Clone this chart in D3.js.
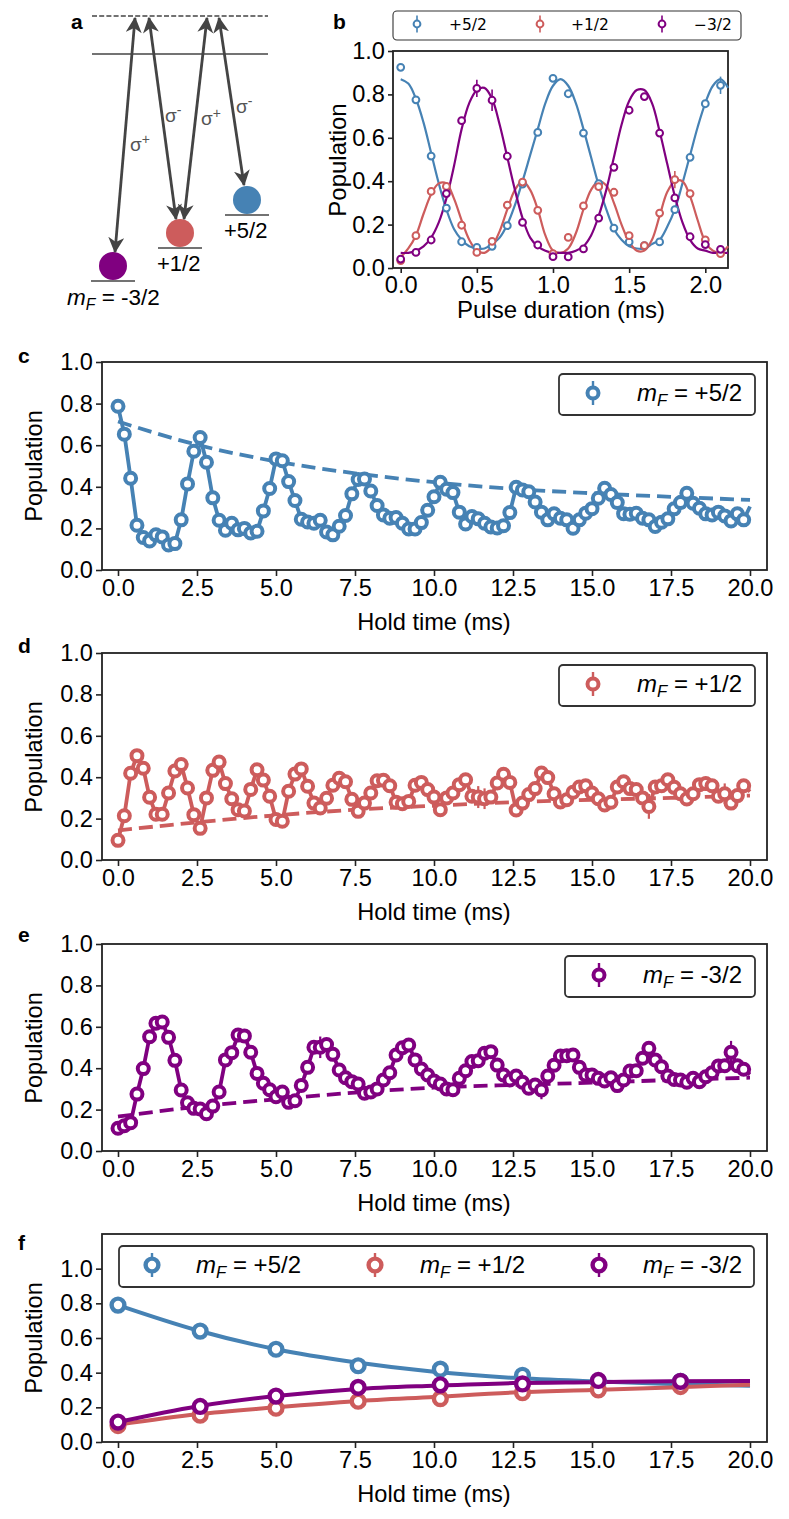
<!DOCTYPE html>
<html><head><meta charset="utf-8">
<script src="https://cdn.jsdelivr.net/npm/d3@7"></script>
<style>html,body{margin:0;padding:0;background:#fff}svg{display:block}text{font-family:"Liberation Sans",Arial,sans-serif;fill:#000}</style>
</head><body><svg id="c" width="789" height="1519"></svg>
<script>
const BLUE="#4682b4",RED="#cd5c5c",PURPLE="#800080";
const pulseTimes=[0,.1,.2,.3,.4,.5,.6,.7,.8,.9,1,1.1,1.2,1.3,1.4,1.5,1.6,1.7,1.8,1.9,2,2.1];
const pulseBlue=[.925,.775,.516,.276,.121,.095,.10,.195,.387,.625,.874,.803,.622,.389,.184,.12,.103,.12,.269,.51,.757,.842];
const pulseRed=[.034,.149,.353,.376,.197,.072,.123,.29,.396,.266,.066,.141,.286,.375,.349,.149,.103,.253,.407,.343,.13,.066];
const pulsePurple=[.041,.072,.129,.343,.679,.828,.773,.515,.21,.106,.052,.051,.088,.23,.464,.727,.79,.622,.323,.144,.108,.086];
const pulseFitT=[0,.05,.1,.15,.2,.25,.3,.35,.4,.45,.5,.55,.6,.65,.7,.75,.8,.85,.9,.95,1,1.05,1.1,1.15,1.2,1.25,1.3,1.35,1.4,1.45,1.5,1.55,1.6,1.65,1.7,1.75,1.8,1.85,1.9,1.95,2,2.05,2.1,2.15];
const pulseFitBlue=[.87,.85,.78,.67,.53,.39,.27,.18,.13,.10,.09,.09,.11,.14,.20,.29,.40,.52,.64,.76,.84,.87,.84,.76,.64,.51,.38,.27,.18,.13,.10,.09,.09,.11,.13,.19,.27,.39,.52,.65,.76,.84,.87,.83];
const pulseFitRed=[.05,.09,.15,.25,.34,.39,.39,.32,.22,.13,.08,.07,.10,.17,.27,.36,.40,.36,.27,.15,.08,.07,.09,.16,.27,.36,.40,.38,.30,.20,.12,.08,.08,.13,.24,.35,.40,.40,.33,.22,.12,.08,.07,.10];
const pulseFitPurple=[.07,.07,.08,.10,.14,.21,.32,.47,.64,.76,.82,.83,.78,.66,.51,.36,.23,.14,.10,.08,.07,.07,.07,.08,.10,.15,.24,.36,.51,.66,.77,.82,.82,.76,.63,.48,.33,.21,.13,.09,.08,.07,.07,.07];

const holdTimes=d3.range(100).map(i=>+(i*.2).toFixed(1));
const holdBlue=[.787,.653,.441,.215,.156,.14,.169,.159,.12,.127,.241,.414,.571,.637,.518,.347,.239,.191,.225,.193,.2,.178,.186,.284,.392,.534,.525,.425,.334,.244,.231,.225,.239,.183,.169,.21,.262,.366,.435,.438,.38,.31,.265,.249,.252,.225,.197,.197,.228,.287,.352,.422,.388,.372,.278,.221,.257,.246,.225,.207,.202,.213,.276,.398,.385,.376,.327,.278,.241,.27,.249,.241,.201,.241,.273,.295,.345,.393,.363,.324,.271,.268,.273,.249,.241,.209,.23,.246,.294,.324,.369,.321,.297,.27,.265,.278,.26,.236,.27,.241];
const holdRed=[.095,.214,.419,.504,.443,.303,.221,.221,.324,.43,.461,.348,.219,.153,.3,.433,.473,.369,.296,.243,.237,.341,.436,.386,.308,.196,.187,.332,.415,.44,.356,.275,.251,.298,.361,.395,.378,.293,.235,.275,.324,.383,.385,.359,.279,.272,.283,.361,.375,.34,.304,.243,.3,.324,.364,.388,.308,.304,.296,.304,.372,.414,.375,.242,.275,.316,.345,.42,.398,.32,.28,.291,.327,.353,.359,.324,.296,.266,.279,.353,.378,.345,.34,.3,.259,.353,.359,.388,.351,.32,.295,.32,.364,.369,.359,.308,.32,.275,.311,.359];
const holdPurple=[.11,.122,.137,.275,.398,.552,.617,.623,.549,.438,.295,.233,.206,.203,.18,.217,.285,.44,.475,.56,.556,.477,.375,.327,.296,.262,.285,.235,.243,.317,.404,.501,.501,.514,.467,.391,.354,.335,.324,.279,.285,.3,.343,.378,.464,.499,.512,.44,.396,.367,.338,.324,.3,.296,.351,.388,.432,.436,.472,.48,.415,.367,.343,.362,.332,.303,.319,.295,.362,.414,.459,.46,.464,.404,.367,.367,.351,.338,.354,.316,.343,.386,.388,.448,.496,.44,.407,.362,.346,.343,.332,.351,.335,.359,.378,.411,.412,.477,.412,.395];
const lineEnd={blue:.305,red:.33,purple:.37};
const bigErrBlue=[[78,.03]];
const bigErrRed=[[57,.053],[58,.05],[84,.06],[96,.05]];
const bigErrPurple=[[32,.052],[67,.045],[84,.03],[97,.055]];
const envT=[0,2.5,5,7.5,10,12.5,15,17.5,20];
const envBlue=[.714,.602,.522,.465,.422,.39,.369,.352,.337];
const envRed=[.143,.182,.216,.243,.262,.279,.291,.30,.311];
const envPurple=[.166,.214,.25,.282,.306,.319,.33,.343,.354];
const peakT=[0,2.6,5,7.6,10.2,12.8,15.2,17.8];
const peakBlue=[.79,.64,.535,.44,.42,.385,.35,.35];
const peakRed=[.095,.155,.195,.235,.25,.285,.30,.32];
const peakPurple=[.115,.205,.265,.315,.33,.335,.355,.35];
const fitFBlue=[.79,.645,.535,.46,.405,.37,.35,.335,.325];
const fitFRed=[.10,.16,.20,.235,.26,.285,.30,.315,.33];
const fitFPurple=[.115,.205,.265,.305,.325,.34,.345,.35,.352];
const holdTicks=[0,2.5,5,7.5,10,12.5,15,17.5,20];
const popTicks=[0,.2,.4,.6,.8,1];
const pulseTicks=[0,.5,1,1.5,2];

const svg=d3.select("#c");
const F2=23.6;

function frame(box,xDom,xRange,yMax,xt,xlab,opts){
  const x=d3.scaleLinear().domain(xDom).range(xRange);
  const y=d3.scaleLinear().domain([0,yMax]).range([box.b,box.t]);
  const g=svg.append("g");
  const ax=g.append("g").attr("transform",`translate(0,${box.b})`).call(d3.axisBottom(x).tickValues(xt).tickSize(opts.tick).tickPadding(opts.xpad).tickFormat(d3.format(".1f")));
  const ay=g.append("g").attr("transform",`translate(${box.l},0)`).call(d3.axisLeft(y).tickValues(popTicks).tickSize(opts.tick).tickPadding(opts.ypad).tickFormat(d3.format(".1f")));
  ax.select(".domain").remove();ay.select(".domain").remove();
  g.selectAll(".tick line").attr("stroke","#222").attr("stroke-width",1.6);
  g.selectAll(".tick text").style("font-family","'Liberation Sans'").style("font-size",opts.font+"px").attr("fill","#000");
  g.append("rect").attr("x",box.l).attr("y",box.t).attr("width",box.r-box.l).attr("height",box.b-box.t).attr("fill","none").attr("stroke","#222").attr("stroke-width",1.8);
  g.append("text").attr("x",opts.xlx).attr("y",box.b+opts.xly).attr("text-anchor","middle").style("font-size",opts.lab+"px").text(xlab);
  g.append("text").attr("transform",`translate(${opts.ylx},${opts.yly}) rotate(-90)`).attr("text-anchor","middle").style("font-size",opts.lab+"px").text("Population");
  return {x,y,g};
}
function lineOf(p,xs,ys,color,w,dash,curve){
  const l=d3.line().x(d=>p.x(d[0])).y(d=>p.y(d[1]));
  if(curve)l.curve(curve);
  const pth=p.g.append("path").datum(xs.map((t,i)=>[t,ys[i]])).attr("d",l).attr("fill","none").attr("stroke",color).attr("stroke-width",w);
  if(dash)pth.attr("stroke-dasharray",dash);
  return pth;
}
function points(p,xs,ys,color,r,w,errs,ew){
  (errs||[]).forEach(([i,e])=>{
    p.g.append("line").attr("x1",p.x(xs[i])).attr("x2",p.x(xs[i])).attr("y1",p.y(ys[i]-e)).attr("y2",p.y(ys[i]+e)).attr("stroke",color).attr("stroke-width",ew);
  });
  p.g.selectAll(null).data(xs.map((t,i)=>[t,ys[i]])).join("circle").attr("cx",d=>p.x(d[0])).attr("cy",d=>p.y(d[1])).attr("r",r).attr("fill","#fff").attr("stroke",color).attr("stroke-width",w);
}
function legBox(x0,y0,x1,y1,w){svg.append("rect").attr("x",x0).attr("y",y0).attr("width",x1-x0).attr("height",y1-y0).attr("rx",4).attr("fill","#fff").attr("stroke","#333").attr("stroke-width",w);}
function legMark(x,y,color,r,w,h,ew){
  svg.append("line").attr("x1",x).attr("x2",x).attr("y1",y-h).attr("y2",y+h).attr("stroke",color).attr("stroke-width",ew);
  svg.append("circle").attr("cx",x).attr("cy",y).attr("r",r).attr("fill","#fff").attr("stroke",color).attr("stroke-width",w);
}
function mfLabel(x,y,rest,size){
  const t=svg.append("text").attr("x",x).attr("y",y).style("font-size",size+"px");
  t.append("tspan").style("font-style","italic").text("m");
  t.append("tspan").style("font-style","italic").style("font-size",(size*.7)+"px").attr("dy",size*.2).text("F");
  t.append("tspan").attr("dy",-size*.2).text(" = "+rest);
}
function panelLabel(s,x,y){svg.append("text").attr("x",x).attr("y",y).style("font-size","21px").style("font-weight","bold").text(s);}

/* ---------- panel a ---------- */
const cGrey="#444";
svg.append("defs").append("marker").attr("id","ah").attr("viewBox","0 0 12 12").attr("refX",11).attr("refY",6).attr("markerWidth",16).attr("markerHeight",16).attr("markerUnits","userSpaceOnUse").attr("orient","auto-start-reverse")
  .append("path").attr("d","M0,0 L12,6 L0,12 L3.5,6 Z").attr("fill",cGrey);
const topLines=[[16,"5,2.2",1.3],[54,null,1.6]];
topLines.forEach(([y,d,w])=>{const l=svg.append("line").attr("x1",92).attr("x2",268).attr("y1",y).attr("y2",y).attr("stroke",cGrey).attr("stroke-width",w);if(d)l.attr("stroke-dasharray",d);});
const levels=[[113,266,PURPLE],[180,233,RED],[247,200,BLUE]];
levels.forEach(([x,y,c])=>{
  svg.append("circle").attr("cx",x).attr("cy",y).attr("r",14).attr("fill",c);
  svg.append("line").attr("x1",x-22).attr("x2",x+22).attr("y1",y+15).attr("y2",y+15).attr("stroke",cGrey).attr("stroke-width",1.6);
});
const arrows=[[135,18,115,252],[149,18,176,219],[207,18,184,219],[219,18,244,185]];
arrows.forEach(([a,b,c,d])=>svg.append("line").attr("x1",a).attr("y1",b).attr("x2",c).attr("y2",d).attr("stroke",cGrey).attr("stroke-width",2.8).attr("marker-start","url(#ah)").attr("marker-end","url(#ah)"));
const sigmas=[[130,151,"+"],[165,122,"-"],[201,125,"+"],[236,113,"-"]];
sigmas.forEach(([x,y,s])=>{
  const t=svg.append("text").attr("x",x).attr("y",y).style("font-size","19px").style("fill","#555");
  t.append("tspan").text("σ");
  t.append("tspan").attr("dy",-7).style("font-size","14px").text(s);
});
svg.append("text").attr("x",224).attr("y",238).style("font-size","22px").text("+5/2");
svg.append("text").attr("x",157).attr("y",271).style("font-size","22px").text("+1/2");
mfLabel(67,305,"-3/2",22.5);

panelLabel("a",71,29);panelLabel("b",333,29);panelLabel("c",18,363);panelLabel("d",18,653);panelLabel("e",18,942);panelLabel("f",18,1250);

/* ---------- panel b ---------- */
{
  const p=frame({l:393,r:728,t:51,b:268},[0,2],[400.7,705.3],1,pulseTicks,"Pulse duration (ms)",{tick:5,xpad:3,ypad:3,font:23.6,lab:24,xlx:561,xly:50,ylx:346,yly:160});
  [[pulseFitBlue,BLUE],[pulseFitRed,RED],[pulseFitPurple,PURPLE]].forEach(([v,c])=>lineOf(p,pulseFitT,v,c,2.2,null,d3.curveCatmullRom));
  points(p,pulseTimes,pulseBlue,BLUE,3.4,2,[[21,.04]],1.6);
  points(p,pulseTimes,pulseRed,RED,3.4,2,[[18,.04]],1.6);
  points(p,pulseTimes,pulsePurple,PURPLE,3.4,2,[[5,.04],[6,.05]],1.6);
  legBox(393,11,741,40,1.1);
  const items=[[417,BLUE,"+5/2",449],[540,RED,"+1/2",571],[662,PURPLE,"−3/2",694]];
  items.forEach(([x,c,s,tx])=>{
    legMark(x,24,c,3.4,2,8.5,1.6);
    svg.append("text").attr("x",tx).attr("y",30).style("font-family","'DejaVu Sans'").style("font-size","15.5px").text(s);
  });
}

/* ---------- panels c, d, e ---------- */
const optsHold=(t)=>({tick:6,xpad:3,ypad:3,font:F2,lab:F2,xlx:434,xly:60,ylx:42,yly:t+104});
function holdPanel(t,b,vals,end,env,errs,color,leg){
  const p=frame({l:102,r:767,t,b},[0,20],[118,750],1,holdTicks,"Hold time (ms)",optsHold(t));
  lineOf(p,envT,env,color,3.8,"14,7",d3.curveMonotoneX);
  lineOf(p,holdTimes.concat([20]),vals.concat([end]),color,3.8);
  points(p,holdTimes,vals,color,5.5,4,errs,2.2);
  legBox(leg.x0,t+12,755,t+53,1.8);
  legMark(leg.mx,t+31,color,5.5,4,12,2.4);
  mfLabel(leg.tx,t+39,leg.s,24);
}
holdPanel(362,570,holdBlue,lineEnd.blue,envBlue,bigErrBlue,BLUE,{x0:559,mx:593,tx:637,s:"+5/2"});
holdPanel(653,860,holdRed,lineEnd.red,envRed,bigErrRed,RED,{x0:559,mx:593,tx:637,s:"+1/2"});
holdPanel(944,1151,holdPurple,lineEnd.purple,envPurple,bigErrPurple,PURPLE,{x0:565,mx:599,tx:643,s:"-3/2"});

/* ---------- panel f ---------- */
{
  const p=frame({l:102,r:767,t:1234,b:1442},[0,20],[118,750],1.2,holdTicks,"Hold time (ms)",{tick:6,xpad:3,ypad:3,font:F2,lab:F2,xlx:434,xly:60,ylx:42,yly:1338});
  [[fitFBlue,BLUE],[fitFRed,RED],[fitFPurple,PURPLE]].forEach(([v,c])=>lineOf(p,envT,v,c,4,null,d3.curveMonotoneX));
  points(p,peakT,peakBlue,BLUE,6.4,4.4,null,2);
  points(p,peakT,peakRed,RED,6.4,4.4,null,2);
  points(p,peakT,peakPurple,PURPLE,6.4,4.4,null,2);
  legBox(119,1246,754,1287,1.8);
  [[152,BLUE,196,"+5/2"],[375,RED,420,"+1/2"],[599,PURPLE,643,"-3/2"]].forEach(([x,c,tx,s])=>{
    legMark(x,1265,c,6.4,4.4,12,2.4);
    mfLabel(tx,1273,s,24);
  });
}
</script></body></html>
